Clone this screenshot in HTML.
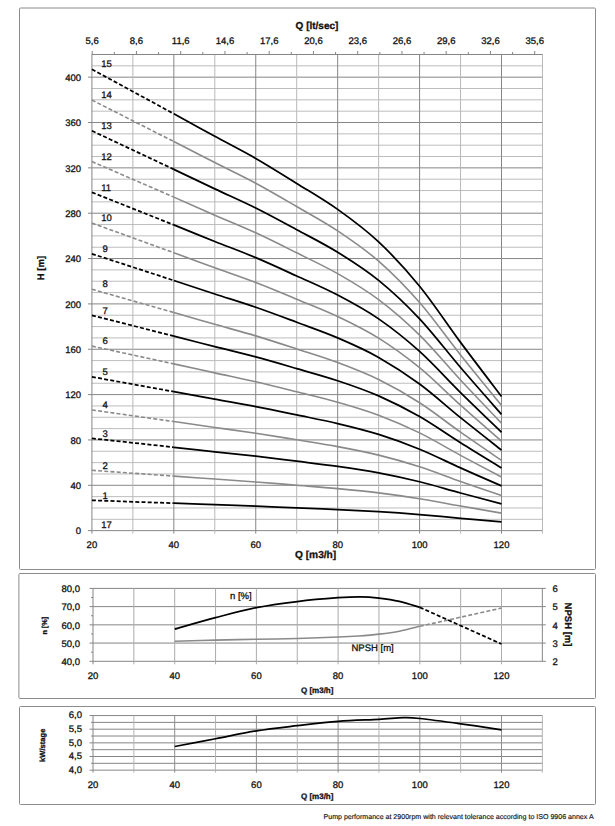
<!DOCTYPE html><html><head><meta charset="utf-8"><style>html,body{margin:0;padding:0;background:#fff;overflow:hidden;width:615px;height:826px;}svg{display:block;}text{font-family:"Liberation Sans",sans-serif;fill:#111;stroke:#111;stroke-width:0.3px;}</style></head><body>
<svg width="615" height="826" viewBox="0 0 615 826" style="text-rendering:geometricPrecision">
<rect x="0" y="0" width="615" height="826" fill="#fff" stroke="none"/>
<g fill="none" stroke="#8c8c8c" stroke-width="1">
<rect x="19.5" y="8" width="576" height="561.5" rx="1"/>
<rect x="18.9" y="573.5" width="576.6" height="125" rx="1"/>
<rect x="19.5" y="706.5" width="576" height="98" rx="1"/>
</g>
<line x1="87.91" y1="530.64" x2="542.47" y2="530.64" stroke="#868686" stroke-width="1"/><line x1="91.91" y1="519.30" x2="542.47" y2="519.30" stroke="#bdbdbd" stroke-width="1"/><line x1="91.91" y1="507.97" x2="542.47" y2="507.97" stroke="#bdbdbd" stroke-width="1"/><line x1="91.91" y1="496.63" x2="542.47" y2="496.63" stroke="#bdbdbd" stroke-width="1"/><line x1="87.91" y1="485.29" x2="542.47" y2="485.29" stroke="#868686" stroke-width="1"/><line x1="91.91" y1="473.96" x2="542.47" y2="473.96" stroke="#bdbdbd" stroke-width="1"/><line x1="91.91" y1="462.62" x2="542.47" y2="462.62" stroke="#bdbdbd" stroke-width="1"/><line x1="91.91" y1="451.28" x2="542.47" y2="451.28" stroke="#bdbdbd" stroke-width="1"/><line x1="87.91" y1="439.95" x2="542.47" y2="439.95" stroke="#868686" stroke-width="1"/><line x1="91.91" y1="428.61" x2="542.47" y2="428.61" stroke="#bdbdbd" stroke-width="1"/><line x1="91.91" y1="417.27" x2="542.47" y2="417.27" stroke="#bdbdbd" stroke-width="1"/><line x1="91.91" y1="405.94" x2="542.47" y2="405.94" stroke="#bdbdbd" stroke-width="1"/><line x1="87.91" y1="394.60" x2="542.47" y2="394.60" stroke="#868686" stroke-width="1"/><line x1="91.91" y1="383.26" x2="542.47" y2="383.26" stroke="#bdbdbd" stroke-width="1"/><line x1="91.91" y1="371.92" x2="542.47" y2="371.92" stroke="#bdbdbd" stroke-width="1"/><line x1="91.91" y1="360.59" x2="542.47" y2="360.59" stroke="#bdbdbd" stroke-width="1"/><line x1="87.91" y1="349.25" x2="542.47" y2="349.25" stroke="#868686" stroke-width="1"/><line x1="91.91" y1="337.91" x2="542.47" y2="337.91" stroke="#bdbdbd" stroke-width="1"/><line x1="91.91" y1="326.58" x2="542.47" y2="326.58" stroke="#bdbdbd" stroke-width="1"/><line x1="91.91" y1="315.24" x2="542.47" y2="315.24" stroke="#bdbdbd" stroke-width="1"/><line x1="87.91" y1="303.90" x2="542.47" y2="303.90" stroke="#868686" stroke-width="1"/><line x1="91.91" y1="292.57" x2="542.47" y2="292.57" stroke="#bdbdbd" stroke-width="1"/><line x1="91.91" y1="281.23" x2="542.47" y2="281.23" stroke="#bdbdbd" stroke-width="1"/><line x1="91.91" y1="269.89" x2="542.47" y2="269.89" stroke="#bdbdbd" stroke-width="1"/><line x1="87.91" y1="258.56" x2="542.47" y2="258.56" stroke="#868686" stroke-width="1"/><line x1="91.91" y1="247.22" x2="542.47" y2="247.22" stroke="#bdbdbd" stroke-width="1"/><line x1="91.91" y1="235.88" x2="542.47" y2="235.88" stroke="#bdbdbd" stroke-width="1"/><line x1="91.91" y1="224.55" x2="542.47" y2="224.55" stroke="#bdbdbd" stroke-width="1"/><line x1="87.91" y1="213.21" x2="542.47" y2="213.21" stroke="#868686" stroke-width="1"/><line x1="91.91" y1="201.87" x2="542.47" y2="201.87" stroke="#bdbdbd" stroke-width="1"/><line x1="91.91" y1="190.54" x2="542.47" y2="190.54" stroke="#bdbdbd" stroke-width="1"/><line x1="91.91" y1="179.20" x2="542.47" y2="179.20" stroke="#bdbdbd" stroke-width="1"/><line x1="87.91" y1="167.86" x2="542.47" y2="167.86" stroke="#868686" stroke-width="1"/><line x1="91.91" y1="156.53" x2="542.47" y2="156.53" stroke="#bdbdbd" stroke-width="1"/><line x1="91.91" y1="145.19" x2="542.47" y2="145.19" stroke="#bdbdbd" stroke-width="1"/><line x1="91.91" y1="133.85" x2="542.47" y2="133.85" stroke="#bdbdbd" stroke-width="1"/><line x1="87.91" y1="122.52" x2="542.47" y2="122.52" stroke="#868686" stroke-width="1"/><line x1="91.91" y1="111.18" x2="542.47" y2="111.18" stroke="#bdbdbd" stroke-width="1"/><line x1="91.91" y1="99.84" x2="542.47" y2="99.84" stroke="#bdbdbd" stroke-width="1"/><line x1="91.91" y1="88.50" x2="542.47" y2="88.50" stroke="#bdbdbd" stroke-width="1"/><line x1="87.91" y1="77.17" x2="542.47" y2="77.17" stroke="#868686" stroke-width="1"/><line x1="91.91" y1="65.83" x2="542.47" y2="65.83" stroke="#bdbdbd" stroke-width="1"/><line x1="91.91" y1="54.49" x2="542.47" y2="54.49" stroke="#bdbdbd" stroke-width="1"/><line x1="132.87" y1="54.49" x2="132.87" y2="533.64" stroke="#b8b8b8" stroke-width="1"/><line x1="173.83" y1="54.49" x2="173.83" y2="533.64" stroke="#868686" stroke-width="1"/><line x1="214.79" y1="54.49" x2="214.79" y2="533.64" stroke="#b8b8b8" stroke-width="1"/><line x1="255.75" y1="54.49" x2="255.75" y2="533.64" stroke="#868686" stroke-width="1"/><line x1="296.71" y1="54.49" x2="296.71" y2="533.64" stroke="#b8b8b8" stroke-width="1"/><line x1="337.67" y1="54.49" x2="337.67" y2="533.64" stroke="#868686" stroke-width="1"/><line x1="378.63" y1="54.49" x2="378.63" y2="533.64" stroke="#b8b8b8" stroke-width="1"/><line x1="419.59" y1="54.49" x2="419.59" y2="533.64" stroke="#868686" stroke-width="1"/><line x1="460.55" y1="54.49" x2="460.55" y2="533.64" stroke="#b8b8b8" stroke-width="1"/><line x1="501.51" y1="54.49" x2="501.51" y2="533.64" stroke="#868686" stroke-width="1"/><line x1="542.47" y1="54.49" x2="542.47" y2="533.64" stroke="#b8b8b8" stroke-width="1"/><line x1="91.91" y1="54.49" x2="91.91" y2="533.64" stroke="#868686" stroke-width="1"/><line x1="91.91" y1="54.49" x2="542.47" y2="54.49" stroke="#868686" stroke-width="1"/><line x1="92.20" y1="50.99" x2="92.20" y2="54.49" stroke="#868686" stroke-width="1"/><line x1="114.33" y1="51.99" x2="114.33" y2="54.49" stroke="#868686" stroke-width="1"/><line x1="136.45" y1="50.99" x2="136.45" y2="54.49" stroke="#868686" stroke-width="1"/><line x1="158.57" y1="51.99" x2="158.57" y2="54.49" stroke="#868686" stroke-width="1"/><line x1="180.70" y1="50.99" x2="180.70" y2="54.49" stroke="#868686" stroke-width="1"/><line x1="202.82" y1="51.99" x2="202.82" y2="54.49" stroke="#868686" stroke-width="1"/><line x1="224.95" y1="50.99" x2="224.95" y2="54.49" stroke="#868686" stroke-width="1"/><line x1="247.08" y1="51.99" x2="247.08" y2="54.49" stroke="#868686" stroke-width="1"/><line x1="269.20" y1="50.99" x2="269.20" y2="54.49" stroke="#868686" stroke-width="1"/><line x1="291.33" y1="51.99" x2="291.33" y2="54.49" stroke="#868686" stroke-width="1"/><line x1="313.45" y1="50.99" x2="313.45" y2="54.49" stroke="#868686" stroke-width="1"/><line x1="335.57" y1="51.99" x2="335.57" y2="54.49" stroke="#868686" stroke-width="1"/><line x1="357.70" y1="50.99" x2="357.70" y2="54.49" stroke="#868686" stroke-width="1"/><line x1="379.82" y1="51.99" x2="379.82" y2="54.49" stroke="#868686" stroke-width="1"/><line x1="401.95" y1="50.99" x2="401.95" y2="54.49" stroke="#868686" stroke-width="1"/><line x1="424.07" y1="51.99" x2="424.07" y2="54.49" stroke="#868686" stroke-width="1"/><line x1="446.20" y1="50.99" x2="446.20" y2="54.49" stroke="#868686" stroke-width="1"/><line x1="468.32" y1="51.99" x2="468.32" y2="54.49" stroke="#868686" stroke-width="1"/><line x1="490.45" y1="50.99" x2="490.45" y2="54.49" stroke="#868686" stroke-width="1"/><line x1="512.58" y1="51.99" x2="512.58" y2="54.49" stroke="#868686" stroke-width="1"/><line x1="534.70" y1="50.99" x2="534.70" y2="54.49" stroke="#868686" stroke-width="1"/>
<text x="81.00" y="530.94" font-size="9.5" text-anchor="end" dy="0.9" dominant-baseline="central">0</text><text x="81.00" y="485.59" font-size="9.5" text-anchor="end" dy="0.9" dominant-baseline="central">40</text><text x="81.00" y="440.25" font-size="9.5" text-anchor="end" dy="0.9" dominant-baseline="central">80</text><text x="81.00" y="394.90" font-size="9.5" text-anchor="end" dy="0.9" dominant-baseline="central">120</text><text x="81.00" y="349.55" font-size="9.5" text-anchor="end" dy="0.9" dominant-baseline="central">160</text><text x="81.00" y="304.20" font-size="9.5" text-anchor="end" dy="0.9" dominant-baseline="central">200</text><text x="81.00" y="258.86" font-size="9.5" text-anchor="end" dy="0.9" dominant-baseline="central">240</text><text x="81.00" y="213.51" font-size="9.5" text-anchor="end" dy="0.9" dominant-baseline="central">280</text><text x="81.00" y="168.16" font-size="9.5" text-anchor="end" dy="0.9" dominant-baseline="central">320</text><text x="81.00" y="122.82" font-size="9.5" text-anchor="end" dy="0.9" dominant-baseline="central">360</text><text x="81.00" y="77.47" font-size="9.5" text-anchor="end" dy="0.9" dominant-baseline="central">400</text><text x="91.91" y="544.80" font-size="9.5" text-anchor="middle" dy="0.9" dominant-baseline="central">20</text><text x="173.83" y="544.80" font-size="9.5" text-anchor="middle" dy="0.9" dominant-baseline="central">40</text><text x="255.75" y="544.80" font-size="9.5" text-anchor="middle" dy="0.9" dominant-baseline="central">60</text><text x="337.67" y="544.80" font-size="9.5" text-anchor="middle" dy="0.9" dominant-baseline="central">80</text><text x="419.59" y="544.80" font-size="9.5" text-anchor="middle" dy="0.9" dominant-baseline="central">100</text><text x="501.51" y="544.80" font-size="9.5" text-anchor="middle" dy="0.9" dominant-baseline="central">120</text><text x="92.20" y="40.60" font-size="9.5" text-anchor="middle" dy="0.9" dominant-baseline="central">5,6</text><text x="136.45" y="40.60" font-size="9.5" text-anchor="middle" dy="0.9" dominant-baseline="central">8,6</text><text x="180.70" y="40.60" font-size="9.5" text-anchor="middle" dy="0.9" dominant-baseline="central">11,6</text><text x="224.95" y="40.60" font-size="9.5" text-anchor="middle" dy="0.9" dominant-baseline="central">14,6</text><text x="269.20" y="40.60" font-size="9.5" text-anchor="middle" dy="0.9" dominant-baseline="central">17,6</text><text x="313.45" y="40.60" font-size="9.5" text-anchor="middle" dy="0.9" dominant-baseline="central">20,6</text><text x="357.70" y="40.60" font-size="9.5" text-anchor="middle" dy="0.9" dominant-baseline="central">23,6</text><text x="401.95" y="40.60" font-size="9.5" text-anchor="middle" dy="0.9" dominant-baseline="central">26,6</text><text x="446.20" y="40.60" font-size="9.5" text-anchor="middle" dy="0.9" dominant-baseline="central">29,6</text><text x="490.45" y="40.60" font-size="9.5" text-anchor="middle" dy="0.9" dominant-baseline="central">32,6</text><text x="534.70" y="40.60" font-size="9.5" text-anchor="middle" dy="0.9" dominant-baseline="central">35,6</text><text x="317.00" y="25.20" font-size="10" text-anchor="middle" font-weight="bold" dy="0.9" dominant-baseline="central">Q [lt/sec]</text><text x="315.60" y="554.80" font-size="10.2" text-anchor="middle" font-weight="bold" dy="0.9" dominant-baseline="central">Q [m3/h]</text><text transform="translate(40.70 268.00) rotate(-90)" font-size="9.5" text-anchor="middle" font-weight="bold" dy="0.9" dominant-baseline="central">H [m]</text>
<path d="M173.83 503.24 C180.66 503.48 201.14 504.23 214.79 504.72 C228.44 505.21 242.10 505.66 255.75 506.17 C269.40 506.69 283.06 507.26 296.71 507.81 C310.36 508.37 324.02 508.88 337.67 509.52 C351.32 510.17 364.98 510.82 378.63 511.66 C392.28 512.50 405.94 513.48 419.59 514.58 C433.24 515.68 446.90 517.06 460.55 518.27 C474.20 519.47 494.68 521.23 501.51 521.82" fill="none" stroke="#000" stroke-width="1.75"/><line x1="91.91" y1="500.31" x2="173.83" y2="503.24" stroke="#000" stroke-width="1.75" stroke-dasharray="4 2.2"/><path d="M173.83 476.11 C180.66 476.60 201.14 478.09 214.79 479.06 C228.44 480.03 242.10 480.92 255.75 481.95 C269.40 482.98 283.06 484.11 296.71 485.22 C310.36 486.33 324.02 487.35 337.67 488.62 C351.32 489.90 364.98 491.20 378.63 492.87 C392.28 494.55 405.94 496.49 419.59 498.68 C433.24 500.87 446.90 503.61 460.55 506.02 C474.20 508.42 494.68 511.91 501.51 513.09" fill="none" stroke="#8a8a8a" stroke-width="1.6"/><line x1="91.91" y1="470.30" x2="173.83" y2="476.11" stroke="#8a8a8a" stroke-width="1.6" stroke-dasharray="4 2.2"/><path d="M173.83 447.26 C180.66 448.01 201.14 450.28 214.79 451.77 C228.44 453.26 242.10 454.62 255.75 456.19 C269.40 457.76 283.06 459.49 296.71 461.19 C310.36 462.89 324.02 464.44 337.67 466.39 C351.32 468.34 364.98 470.33 378.63 472.89 C392.28 475.45 405.94 478.42 419.59 481.77 C433.24 485.12 446.90 489.32 460.55 492.99 C474.20 496.66 494.68 502.00 501.51 503.81" fill="none" stroke="#000" stroke-width="1.75"/><line x1="91.91" y1="438.37" x2="173.83" y2="447.26" stroke="#000" stroke-width="1.75" stroke-dasharray="4 2.2"/><path d="M173.83 421.58 C180.66 422.57 201.14 425.53 214.79 427.48 C228.44 429.42 242.10 431.21 255.75 433.26 C269.40 435.31 283.06 437.58 296.71 439.80 C310.36 442.02 324.02 444.06 337.67 446.61 C351.32 449.16 364.98 451.75 378.63 455.10 C392.28 458.45 405.94 462.33 419.59 466.71 C433.24 471.10 446.90 476.59 460.55 481.39 C474.20 486.20 494.68 493.18 501.51 495.54" fill="none" stroke="#8a8a8a" stroke-width="1.6"/><line x1="91.91" y1="409.95" x2="173.83" y2="421.58" stroke="#8a8a8a" stroke-width="1.6" stroke-dasharray="4 2.2"/><path d="M173.83 391.68 C180.66 392.93 201.14 396.71 214.79 399.19 C228.44 401.67 242.10 403.94 255.75 406.56 C269.40 409.18 283.06 412.06 296.71 414.89 C310.36 417.73 324.02 420.31 337.67 423.56 C351.32 426.81 364.98 430.12 378.63 434.39 C392.28 438.66 405.94 443.60 419.59 449.19 C433.24 454.77 446.90 461.77 460.55 467.89 C474.20 474.01 494.68 482.91 501.51 485.92" fill="none" stroke="#000" stroke-width="1.75"/><line x1="91.91" y1="376.86" x2="173.83" y2="391.68" stroke="#000" stroke-width="1.75" stroke-dasharray="4 2.2"/><path d="M173.83 363.89 C180.66 365.39 201.14 369.92 214.79 372.90 C228.44 375.88 242.10 378.60 255.75 381.74 C269.40 384.88 283.06 388.34 296.71 391.74 C310.36 395.14 324.02 398.25 337.67 402.15 C351.32 406.05 364.98 410.02 378.63 415.14 C392.28 420.26 405.94 426.19 419.59 432.89 C433.24 439.59 446.90 447.99 460.55 455.34 C474.20 462.69 494.68 473.37 501.51 476.97" fill="none" stroke="#8a8a8a" stroke-width="1.6"/><line x1="91.91" y1="346.10" x2="173.83" y2="363.89" stroke="#8a8a8a" stroke-width="1.6" stroke-dasharray="4 2.2"/><path d="M173.83 336.09 C180.66 337.85 201.14 343.14 214.79 346.61 C228.44 350.08 242.10 353.26 255.75 356.93 C269.40 360.59 283.06 364.62 296.71 368.59 C310.36 372.56 324.02 376.18 337.67 380.73 C351.32 385.28 364.98 389.91 378.63 395.89 C392.28 401.87 405.94 408.79 419.59 416.60 C433.24 424.42 446.90 434.22 460.55 442.79 C474.20 451.36 494.68 463.82 501.51 468.03" fill="none" stroke="#000" stroke-width="1.75"/><line x1="91.91" y1="315.34" x2="173.83" y2="336.09" stroke="#000" stroke-width="1.75" stroke-dasharray="4 2.2"/><path d="M173.83 312.53 C180.66 314.49 201.14 320.42 214.79 324.32 C228.44 328.21 242.10 331.77 255.75 335.88 C269.40 339.99 283.06 344.51 296.71 348.96 C310.36 353.41 324.02 357.47 337.67 362.57 C351.32 367.67 364.98 372.86 378.63 379.57 C392.28 386.27 405.94 394.02 419.59 402.79 C433.24 411.55 446.90 422.54 460.55 432.15 C474.20 441.76 494.68 455.73 501.51 460.44" fill="none" stroke="#8a8a8a" stroke-width="1.6"/><line x1="91.91" y1="289.26" x2="173.83" y2="312.53" stroke="#8a8a8a" stroke-width="1.6" stroke-dasharray="4 2.2"/><path d="M173.83 280.51 C180.66 282.76 201.14 289.57 214.79 294.03 C228.44 298.49 242.10 302.58 255.75 307.29 C269.40 312.00 283.06 317.19 296.71 322.29 C310.36 327.39 324.02 332.05 337.67 337.90 C351.32 343.75 364.98 349.70 378.63 357.39 C392.28 365.08 405.94 373.97 419.59 384.02 C433.24 394.07 446.90 406.67 460.55 417.69 C474.20 428.71 494.68 444.73 501.51 450.14" fill="none" stroke="#000" stroke-width="1.75"/><line x1="91.91" y1="253.83" x2="173.83" y2="280.51" stroke="#000" stroke-width="1.75" stroke-dasharray="4 2.2"/><path d="M173.83 252.72 C180.66 255.22 201.14 262.78 214.79 267.74 C228.44 272.70 242.10 277.24 255.75 282.48 C269.40 287.71 283.06 293.47 296.71 299.14 C310.36 304.81 324.02 309.99 337.67 316.49 C351.32 322.99 364.98 329.60 378.63 338.14 C392.28 346.68 405.94 356.56 419.59 367.73 C433.24 378.90 446.90 392.90 460.55 405.14 C474.20 417.39 494.68 435.18 501.51 441.19" fill="none" stroke="#8a8a8a" stroke-width="1.6"/><line x1="91.91" y1="223.07" x2="173.83" y2="252.72" stroke="#8a8a8a" stroke-width="1.6" stroke-dasharray="4 2.2"/><path d="M173.83 224.93 C180.66 227.68 201.14 235.99 214.79 241.45 C228.44 246.91 242.10 251.90 255.75 257.66 C269.40 263.42 283.06 269.76 296.71 275.99 C310.36 282.23 324.02 287.92 337.67 295.07 C351.32 302.22 364.98 309.50 378.63 318.89 C392.28 328.29 405.94 339.16 419.59 351.44 C433.24 363.72 446.90 379.12 460.55 392.59 C474.20 406.06 494.68 425.64 501.51 432.25" fill="none" stroke="#000" stroke-width="1.75"/><line x1="91.91" y1="192.32" x2="173.83" y2="224.93" stroke="#000" stroke-width="1.75" stroke-dasharray="4 2.2"/><path d="M173.83 197.13 C180.66 200.14 201.14 209.21 214.79 215.16 C228.44 221.11 242.10 226.56 255.75 232.84 C269.40 239.13 283.06 246.04 296.71 252.84 C310.36 259.65 324.02 265.86 337.67 273.66 C351.32 281.46 364.98 289.39 378.63 299.64 C392.28 309.89 405.94 321.75 419.59 335.15 C433.24 348.55 446.90 365.35 460.55 380.04 C474.20 394.73 494.68 416.09 501.51 423.30" fill="none" stroke="#8a8a8a" stroke-width="1.6"/><line x1="91.91" y1="161.56" x2="173.83" y2="197.13" stroke="#8a8a8a" stroke-width="1.6" stroke-dasharray="4 2.2"/><path d="M173.83 169.34 C180.66 172.60 201.14 182.42 214.79 188.87 C228.44 195.32 242.10 201.22 255.75 208.03 C269.40 214.83 283.06 222.32 296.71 229.69 C310.36 237.06 324.02 243.79 337.67 252.24 C351.32 260.69 364.98 269.29 378.63 280.39 C392.28 291.49 405.94 304.34 419.59 318.86 C433.24 333.37 446.90 351.58 460.55 367.49 C474.20 383.41 494.68 406.55 501.51 414.36" fill="none" stroke="#000" stroke-width="1.75"/><line x1="91.91" y1="130.80" x2="173.83" y2="169.34" stroke="#000" stroke-width="1.75" stroke-dasharray="4 2.2"/><path d="M173.83 141.55 C180.66 145.05 201.14 155.64 214.79 162.58 C228.44 169.52 242.10 175.89 255.75 183.21 C269.40 190.54 283.06 198.61 296.71 206.54 C310.36 214.48 324.02 221.73 337.67 230.83 C351.32 239.93 364.98 249.19 378.63 261.14 C392.28 273.10 405.94 286.93 419.59 302.57 C433.24 318.20 446.90 337.80 460.55 354.94 C474.20 372.08 494.68 397.00 501.51 405.41" fill="none" stroke="#8a8a8a" stroke-width="1.6"/><line x1="91.91" y1="100.05" x2="173.83" y2="141.55" stroke="#8a8a8a" stroke-width="1.6" stroke-dasharray="4 2.2"/><path d="M173.83 113.76 C180.66 117.51 201.14 128.85 214.79 136.29 C228.44 143.73 242.10 150.55 255.75 158.40 C269.40 166.25 283.06 174.89 296.71 183.39 C310.36 191.90 324.02 199.66 337.67 209.41 C351.32 219.16 364.98 229.08 378.63 241.89 C392.28 254.70 405.94 269.53 419.59 286.28 C433.24 303.03 446.90 324.03 460.55 342.39 C474.20 360.76 494.68 387.46 501.51 396.47" fill="none" stroke="#000" stroke-width="1.75"/><line x1="91.91" y1="69.29" x2="173.83" y2="113.76" stroke="#000" stroke-width="1.75" stroke-dasharray="4 2.2"/><text x="102.50" y="495.11" font-size="9.5" dy="0.9" dominant-baseline="central">1</text><text x="102.50" y="465.10" font-size="9.5" dy="0.9" dominant-baseline="central">2</text><text x="102.50" y="433.17" font-size="9.5" dy="0.9" dominant-baseline="central">3</text><text x="102.50" y="404.75" font-size="9.5" dy="0.9" dominant-baseline="central">4</text><text x="102.50" y="371.66" font-size="9.5" dy="0.9" dominant-baseline="central">5</text><text x="102.50" y="340.90" font-size="9.5" dy="0.9" dominant-baseline="central">6</text><text x="102.50" y="310.14" font-size="9.5" dy="0.9" dominant-baseline="central">7</text><text x="102.50" y="284.06" font-size="9.5" dy="0.9" dominant-baseline="central">8</text><text x="102.50" y="248.63" font-size="9.5" dy="0.9" dominant-baseline="central">9</text><text x="101.20" y="217.87" font-size="9.5" dy="0.9" dominant-baseline="central">10</text><text x="101.20" y="187.12" font-size="9.5" dy="0.9" dominant-baseline="central">11</text><text x="101.20" y="156.36" font-size="9.5" dy="0.9" dominant-baseline="central">12</text><text x="101.20" y="125.60" font-size="9.5" dy="0.9" dominant-baseline="central">13</text><text x="101.20" y="94.85" font-size="9.5" dy="0.9" dominant-baseline="central">14</text><text x="101.20" y="64.09" font-size="9.5" dy="0.9" dominant-baseline="central">15</text><text x="101.20" y="524.40" font-size="9.5" dy="0.9" dominant-baseline="central">17</text>
<line x1="89.50" y1="661.30" x2="545.85" y2="661.30" stroke="#868686" stroke-width="1"/><line x1="89.50" y1="643.07" x2="545.85" y2="643.07" stroke="#868686" stroke-width="1"/><line x1="89.50" y1="624.85" x2="545.85" y2="624.85" stroke="#868686" stroke-width="1"/><line x1="89.50" y1="606.62" x2="545.85" y2="606.62" stroke="#868686" stroke-width="1"/><line x1="89.50" y1="588.40" x2="545.85" y2="588.40" stroke="#868686" stroke-width="1"/><line x1="91.00" y1="652.19" x2="93.00" y2="652.19" stroke="#868686" stroke-width="1"/><line x1="91.00" y1="633.96" x2="93.00" y2="633.96" stroke="#868686" stroke-width="1"/><line x1="91.00" y1="615.74" x2="93.00" y2="615.74" stroke="#868686" stroke-width="1"/><line x1="91.00" y1="597.51" x2="93.00" y2="597.51" stroke="#868686" stroke-width="1"/><line x1="133.85" y1="588.40" x2="133.85" y2="664.30" stroke="#acacac" stroke-width="1"/><line x1="174.70" y1="588.40" x2="174.70" y2="664.30" stroke="#acacac" stroke-width="1"/><line x1="215.55" y1="588.40" x2="215.55" y2="664.30" stroke="#acacac" stroke-width="1"/><line x1="256.40" y1="588.40" x2="256.40" y2="664.30" stroke="#acacac" stroke-width="1"/><line x1="297.25" y1="588.40" x2="297.25" y2="664.30" stroke="#acacac" stroke-width="1"/><line x1="338.10" y1="588.40" x2="338.10" y2="664.30" stroke="#acacac" stroke-width="1"/><line x1="378.95" y1="588.40" x2="378.95" y2="664.30" stroke="#acacac" stroke-width="1"/><line x1="419.80" y1="588.40" x2="419.80" y2="664.30" stroke="#acacac" stroke-width="1"/><line x1="460.65" y1="588.40" x2="460.65" y2="664.30" stroke="#acacac" stroke-width="1"/><line x1="501.50" y1="588.40" x2="501.50" y2="664.30" stroke="#acacac" stroke-width="1"/><line x1="542.35" y1="588.40" x2="542.35" y2="661.30" stroke="#868686" stroke-width="1"/><line x1="93.00" y1="588.40" x2="93.00" y2="664.30" stroke="#868686" stroke-width="1"/>
<text x="80.00" y="661.60" font-size="9.5" text-anchor="end" dy="0.9" dominant-baseline="central">40,0</text><text x="80.00" y="643.37" font-size="9.5" text-anchor="end" dy="0.9" dominant-baseline="central">50,0</text><text x="80.00" y="625.15" font-size="9.5" text-anchor="end" dy="0.9" dominant-baseline="central">60,0</text><text x="80.00" y="606.92" font-size="9.5" text-anchor="end" dy="0.9" dominant-baseline="central">70,0</text><text x="80.00" y="588.70" font-size="9.5" text-anchor="end" dy="0.9" dominant-baseline="central">80,0</text><text x="552.50" y="661.60" font-size="9.5" dy="0.9" dominant-baseline="central">2</text><text x="552.50" y="643.37" font-size="9.5" dy="0.9" dominant-baseline="central">3</text><text x="552.50" y="625.15" font-size="9.5" dy="0.9" dominant-baseline="central">4</text><text x="552.50" y="606.92" font-size="9.5" dy="0.9" dominant-baseline="central">5</text><text x="552.50" y="588.70" font-size="9.5" dy="0.9" dominant-baseline="central">6</text><text x="93.00" y="676.00" font-size="9.5" text-anchor="middle" dy="0.9" dominant-baseline="central">20</text><text x="174.70" y="676.00" font-size="9.5" text-anchor="middle" dy="0.9" dominant-baseline="central">40</text><text x="256.40" y="676.00" font-size="9.5" text-anchor="middle" dy="0.9" dominant-baseline="central">60</text><text x="338.10" y="676.00" font-size="9.5" text-anchor="middle" dy="0.9" dominant-baseline="central">80</text><text x="419.80" y="676.00" font-size="9.5" text-anchor="middle" dy="0.9" dominant-baseline="central">100</text><text x="501.50" y="676.00" font-size="9.5" text-anchor="middle" dy="0.9" dominant-baseline="central">120</text><text x="317.20" y="689.40" font-size="8" text-anchor="middle" font-weight="bold" dy="0.9" dominant-baseline="central">Q [m3/h]</text><text transform="translate(43.30 625.70) rotate(-90)" font-size="7.3" text-anchor="middle" font-weight="bold" dy="0.9" dominant-baseline="central">n [%]</text><text transform="translate(568.20 624.50) rotate(90)" font-size="9.5" text-anchor="middle" font-weight="bold" dy="0.9" dominant-baseline="central">NPSH [m]</text><text x="230.00" y="595.50" font-size="9.5" dy="0.9" dominant-baseline="central">n [%]</text><text x="351.50" y="647.70" font-size="9.5" dy="0.9" dominant-baseline="central">NPSH [m]</text>
<path d="M174.70 629.04 C181.51 627.14 201.93 621.22 215.55 617.65 C229.17 614.08 242.78 610.32 256.40 607.63 C270.02 604.94 283.63 603.18 297.25 601.52 C310.87 599.87 327.55 598.48 338.10 597.69 C348.65 596.90 353.76 596.72 360.57 596.78 C367.38 596.84 372.48 597.30 378.95 598.06 C385.42 598.82 392.57 599.79 399.38 601.34 C406.18 602.89 416.40 606.35 419.80 607.35" fill="none" stroke="#000" stroke-width="1.75"/><line x1="419.80" y1="607.35" x2="501.50" y2="643.99" stroke="#000" stroke-width="1.75" stroke-dasharray="4 2.2"/><path d="M174.70 641.25 C181.51 641.07 201.93 640.49 215.55 640.16 C229.17 639.82 242.78 639.52 256.40 639.25 C270.02 638.97 283.63 638.88 297.25 638.52 C310.87 638.15 327.89 637.49 338.10 637.06 C348.31 636.64 351.72 636.45 358.52 635.97 C365.33 635.48 372.14 634.93 378.95 634.14 C385.76 633.35 392.57 632.53 399.38 631.23 C406.18 629.92 416.40 627.13 419.80 626.31" fill="none" stroke="#8a8a8a" stroke-width="1.6"/><line x1="419.80" y1="626.31" x2="501.50" y2="608.08" stroke="#8a8a8a" stroke-width="1.6" stroke-dasharray="4 2.2"/>
<line x1="89.50" y1="770.15" x2="542.35" y2="770.15" stroke="#868686" stroke-width="1"/><line x1="91.00" y1="763.32" x2="542.35" y2="763.32" stroke="#868686" stroke-width="1"/><line x1="89.50" y1="756.50" x2="542.35" y2="756.50" stroke="#868686" stroke-width="1"/><line x1="91.00" y1="749.67" x2="542.35" y2="749.67" stroke="#868686" stroke-width="1"/><line x1="89.50" y1="742.85" x2="542.35" y2="742.85" stroke="#868686" stroke-width="1"/><line x1="91.00" y1="736.02" x2="542.35" y2="736.02" stroke="#868686" stroke-width="1"/><line x1="89.50" y1="729.20" x2="542.35" y2="729.20" stroke="#868686" stroke-width="1"/><line x1="91.00" y1="722.38" x2="542.35" y2="722.38" stroke="#868686" stroke-width="1"/><line x1="89.50" y1="715.55" x2="542.35" y2="715.55" stroke="#868686" stroke-width="1"/><line x1="133.85" y1="715.55" x2="133.85" y2="772.65" stroke="#b4b4b4" stroke-width="1"/><line x1="174.70" y1="715.55" x2="174.70" y2="772.65" stroke="#8e8e8e" stroke-width="1"/><line x1="215.55" y1="715.55" x2="215.55" y2="772.65" stroke="#b4b4b4" stroke-width="1"/><line x1="256.40" y1="715.55" x2="256.40" y2="772.65" stroke="#8e8e8e" stroke-width="1"/><line x1="297.25" y1="715.55" x2="297.25" y2="772.65" stroke="#b4b4b4" stroke-width="1"/><line x1="338.10" y1="715.55" x2="338.10" y2="772.65" stroke="#8e8e8e" stroke-width="1"/><line x1="378.95" y1="715.55" x2="378.95" y2="772.65" stroke="#b4b4b4" stroke-width="1"/><line x1="419.80" y1="715.55" x2="419.80" y2="772.65" stroke="#8e8e8e" stroke-width="1"/><line x1="460.65" y1="715.55" x2="460.65" y2="772.65" stroke="#b4b4b4" stroke-width="1"/><line x1="501.50" y1="715.55" x2="501.50" y2="772.65" stroke="#8e8e8e" stroke-width="1"/><line x1="542.35" y1="715.55" x2="542.35" y2="772.65" stroke="#b4b4b4" stroke-width="1"/><line x1="93.00" y1="715.55" x2="93.00" y2="772.65" stroke="#868686" stroke-width="1"/>
<text x="82.00" y="769.65" font-size="9.5" text-anchor="end" dy="0.9" dominant-baseline="central">4,0</text><text x="82.00" y="756.00" font-size="9.5" text-anchor="end" dy="0.9" dominant-baseline="central">4,5</text><text x="82.00" y="742.35" font-size="9.5" text-anchor="end" dy="0.9" dominant-baseline="central">5,0</text><text x="82.00" y="728.70" font-size="9.5" text-anchor="end" dy="0.9" dominant-baseline="central">5,5</text><text x="82.00" y="715.05" font-size="9.5" text-anchor="end" dy="0.9" dominant-baseline="central">6,0</text><text x="93.00" y="784.60" font-size="9.5" text-anchor="middle" dy="0.9" dominant-baseline="central">20</text><text x="174.70" y="784.60" font-size="9.5" text-anchor="middle" dy="0.9" dominant-baseline="central">40</text><text x="256.40" y="784.60" font-size="9.5" text-anchor="middle" dy="0.9" dominant-baseline="central">60</text><text x="338.10" y="784.60" font-size="9.5" text-anchor="middle" dy="0.9" dominant-baseline="central">80</text><text x="419.80" y="784.60" font-size="9.5" text-anchor="middle" dy="0.9" dominant-baseline="central">100</text><text x="501.50" y="784.60" font-size="9.5" text-anchor="middle" dy="0.9" dominant-baseline="central">120</text><text x="317.20" y="796.00" font-size="8" text-anchor="middle" font-weight="bold" dy="0.9" dominant-baseline="central">Q [m3/h]</text><text transform="translate(42.00 745.30) rotate(-90)" font-size="7.6" text-anchor="middle" font-weight="bold" dy="0.9" dominant-baseline="central">kW/stage</text>
<path d="M174.70 746.51 C181.51 745.22 201.93 741.37 215.55 738.75 C229.17 736.14 242.78 733.02 256.40 730.84 C270.02 728.65 283.63 727.24 297.25 725.65 C310.87 724.06 324.48 722.34 338.10 721.28 C351.72 720.22 368.06 719.88 378.95 719.29 C389.84 718.70 396.65 717.87 403.46 717.73 C410.27 717.60 410.27 717.49 419.80 718.50 C429.33 719.51 447.03 721.91 460.65 723.79 C474.27 725.68 494.69 728.80 501.50 729.80" fill="none" stroke="#000" stroke-width="1.75"/>
<text style="stroke-width:0.15px" x="323.50" y="816.10" font-size="7.07" dy="0.9" dominant-baseline="central">Pump performance at 2900rpm with relevant tolerance according to ISO 9906 annex A</text>
</svg></body></html>
